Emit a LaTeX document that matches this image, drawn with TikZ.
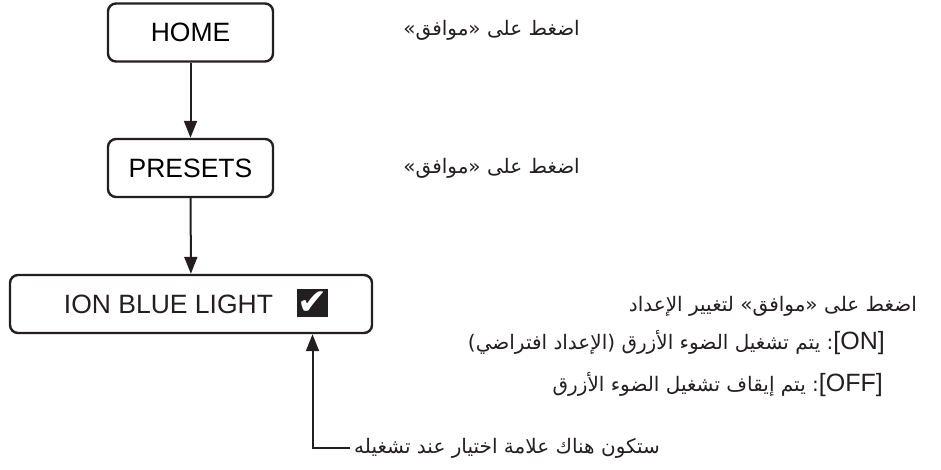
\documentclass[tikz,border=0pt]{standalone}
\usepackage{fontspec}
\setmainfont{Liberation Sans}
\newfontfamily\arabicfont[Script=Arabic]{DejaVu Sans}
\newfontfamily\symfont{DejaVu Sans}
\TeXXeTstate=1
\usepackage{tikz}
\usetikzlibrary{arrows.meta, positioning, calc}

\definecolor{ink}{RGB}{35,31,32}
\newcommand{\keyword}[1]{\beginL{\rmfamily\fontsize{25}{28}\selectfont #1}\endL}

\tikzset{
  menubox/.style={draw=ink, line width=2.4pt, rounded corners=8pt,
                  minimum height=58pt, inner sep=0pt,
                  font=\fontsize{26.5}{30}\selectfont},
  flow/.style={draw=ink, line width=2pt,
               -{Triangle[length=17pt, width=13pt]}},
  note/.style={inner sep=0pt, text=ink,
               font=\arabicfont\fontsize{20}{24}\selectfont},
}

\begin{document}
\begin{tikzpicture}[x=1pt, y=-1pt]
  \useasboundingbox (0,0) rectangle (941,470);

  \node[menubox, minimum width=165pt] (home) at (190.5,32.5) {HOME};
  \node[menubox, minimum width=165pt] (presets) at (190.5,168) {PRESETS};
  \node[menubox, minimum width=362pt] (ion) at (191,304) {};
  \node[inner sep=0pt, font=\fontsize{26.5}{30}\selectfont, text=ink]
       (ionlabel) at (168.5,304) {ION BLUE LIGHT};
  \node[fill=ink, inner sep=0pt, minimum width=31pt, minimum height=28pt,
        text=white, font=\symfont\fontsize{36}{36}\selectfont]
       (tick) at (312.5,303) {✔};

  \draw[flow] (home) -- (presets);
  \draw[flow] (presets) -- (ion);

  \node[note, anchor=east] (homenote) at (580,30)
       {\beginR اضغط على «موافق»\endR};
  \node[note, anchor=east] (presetsnote) at (580,168)
       {\beginR اضغط على «موافق»\endR};

  \node[note, anchor=east] (setnote) at (917,306)
       {\beginR اضغط على «موافق» لتغيير الإعداد\endR};
  \node[note, anchor=east] (onnote) at (885,343)
       {\beginR\keyword{[ON]}: يتم تشغيل الضوء الأزرق (الإعداد افتراضي)\endR};
  \node[note, anchor=east] (offnote) at (883,385)
       {\beginR\keyword{[OFF]}: يتم إيقاف تشغيل الضوء الأزرق\endR};

  \node[note, anchor=west, inner xsep=4pt] (tipnote) at (350,448)
       {\beginR ستكون هناك علامة اختيار عند تشغيله\endR};
  \draw[flow] (tipnote.west) -| (ion.south -| tick);
\end{tikzpicture}
\end{document}
